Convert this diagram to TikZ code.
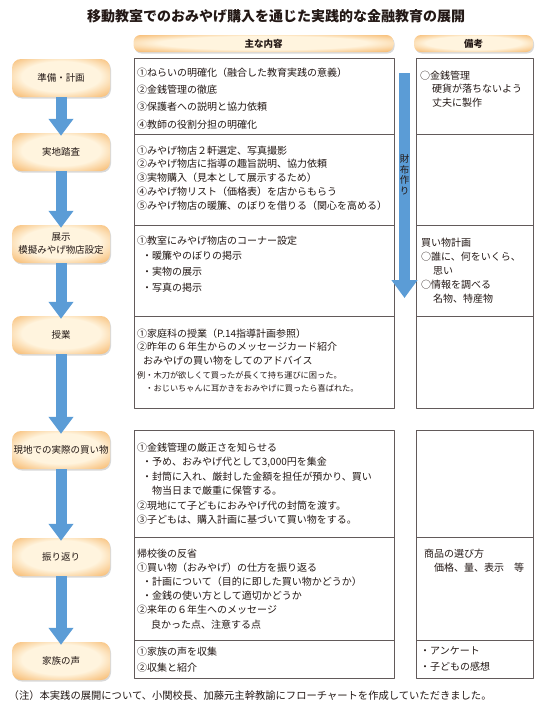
\documentclass[tikz,border=0pt]{standalone}
\usepackage{fontspec}
\setmainfont{Noto Sans CJK JP}
\usetikzlibrary{arrows.meta,shadows}
\definecolor{pillorange}{RGB}{243,160,62}
\definecolor{pillcream}{RGB}{255,244,222}
\definecolor{flowblue}{RGB}{91,156,214}
\definecolor{boxgray}{RGB}{98,90,90}
\definecolor{inkgray}{RGB}{35,24,21}
\pgfdeclareradialshading{pillglow}{\pgfpoint{0bp}{3bp}}{color(0bp)=(pillcream); color(20bp)=(pillcream); color(42bp)=(pillorange); color(70bp)=(pillorange!85!black)}
\begin{document}
\begin{tikzpicture}[x=1pt, y=-1pt, line join=round, >=stealth, text=inkgray,
	pill/.style={shade, shading=pillglow, rounded corners=9pt, minimum width=98pt, minimum height=38pt, inner sep=0pt, align=center, font=\fontsize{9.5}{13}\selectfont, drop shadow={shadow xshift=1pt, shadow yshift=-1.5pt, opacity=.3}},
	headpill/.style={shade, shading=pillglow, rounded corners=7pt, minimum height=17pt, inner sep=0pt, font=\bfseries\fontsize{9.5}{11}\selectfont, drop shadow={shadow xshift=1pt, shadow yshift=-1.5pt, opacity=.3}},
	cell/.style={draw=boxgray, line width=.8pt},
	celltext/.style={anchor=north west, inner sep=0pt, align=left, font=\fontsize{10}{#1}\selectfont},
	flow/.style={draw=flowblue, line width=11pt, -{Triangle[width=24pt, length=17pt]}}]
		\useasboundingbox (0,0) rectangle (540,707);
		% title and column heads
		\node[font=\bfseries\fontsize{14}{16}\selectfont] (title) at (276,16) {移動教室でのおみやげ購入を通じた実践的な金融教育の展開};
		\node[headpill, minimum width=260pt] (hmain) at (263.5,43.5) {主な内容};
		\node[headpill, minimum width=119pt] (hnote) at (473.5,43.5) {備考};
		% cells
		\draw[cell] (134,58) rectangle (394,408);
		\draw[cell] (134,134)--(394,134);
		\draw[cell] (134,225)--(394,225);
		\draw[cell] (134,316)--(394,316);
		\draw[cell] (416,58) rectangle (533,408);
		\draw[cell] (416,134)--(533,134);
		\draw[cell] (416,225)--(533,225);
		\draw[cell] (416,316)--(533,316);
		\draw[cell] (134,430) rectangle (394,678);
		\draw[cell] (134,537)--(394,537);
		\draw[cell] (134,640)--(394,640);
		\draw[cell] (416,430) rectangle (533,678);
		\draw[cell] (416,537)--(533,537);
		\draw[cell] (416,640)--(533,640);
		% steps
		\node[pill] (plan) at (61,78) {準備・計画};
		\node[pill] (visit) at (61,152) {実地踏査};
		\node[pill] (shop) at (61,244) {展示\\模擬みやげ物店設定};
		\node[pill] (lesson) at (61,335) {授業};
		\node[pill] (buy) at (61,450) {現地での実際の買い物};
		\node[pill] (review) at (61,557) {振り返り};
		\node[pill] (family) at (61,661) {家族の声};
		\draw[flow] (plan.south)--([yshift=-3pt]visit.north);
		\draw[flow] (visit.south)--([yshift=-3pt]shop.north);
		\draw[flow] (shop.south)--([yshift=-3pt]lesson.north);
		\draw[flow] (lesson.south)--([yshift=-3pt]buy.north);
		\draw[flow] (buy.south)--([yshift=-3pt]review.north);
		\draw[flow] (review.south)--([yshift=-3pt]family.north);
		% wallet arrow
		\coordinate (walletTop) at (404.5,73);
		\coordinate (walletTip) at (404.5,298);
		\draw[flow, -{Triangle[width=25pt, length=18pt]}] (walletTop)--(walletTip);
		\node[inner sep=0pt, align=center, font=\fontsize{9.5}{10.5}\selectfont] (wallet) at (404.5,175) {財\\布\\作\\り};
		% main contents
		\node[celltext=17.3] (m1) at (137,67.5) {①ねらいの明確化（融合した教育実践の意義）\\②金銭管理の徹底\\③保護者への説明と協力依頼\\④教師の役割分担の明確化};
		\node[celltext=13.8] (m2) at (137,145.5) {①みやげ物店２軒選定、写真撮影\\②みやげ物店に指導の趣旨説明、協力依頼\\③実物購入（見本として展示するため）\\④みやげ物リスト（価格表）を店からもらう\\⑤みやげ物店の暖簾、のぼりを借りる（関心を高める）};
		\node[celltext=15.7] (m3) at (137,235.5) {①教室にみやげ物店のコーナー設定\\\hspace*{.5em}・暖簾やのぼりの掲示\\\hspace*{.5em}・実物の展示\\\hspace*{.5em}・写真の掲示};
		\node[celltext=13.5] (m4) at (137,328.5) {①家庭科の授業（P.14指導計画参照）\\②昨年の６年生からのメッセージカード紹介\\\hspace*{.6em}おみやげの買い物をしてのアドバイス};
		\node[celltext=12.5, font=\fontsize{8.2}{12.5}\selectfont] (m4ex) at (137,371.4) {例・木刀が欲しくて買ったが長くて持ち運びに困った。\\\hspace*{1em}・おじいちゃんに耳かきをおみやげに買ったら喜ばれた。};
		\node[celltext=14.5] (m5) at (137,442.5) {①金銭管理の厳正さを知らせる\\\hspace*{.5em}・予め、おみやげ代として3,000円を集金\\\hspace*{.5em}・封筒に入れ、厳封した金額を担任が預かり、買い\\\hspace*{1.5em}物当日まで厳重に保管する。\\②現地にて子どもにおみやげ代の封筒を渡す。\\③子どもは、購入計画に基づいて買い物をする。};
		\node[celltext=14.2] (m6) at (137,548.5) {帰校後の反省\\①買い物（おみやげ）の仕方を振り返る\\\hspace*{.5em}・計画について（目的に即した買い物かどうか）\\\hspace*{.5em}・金銭の使い方として適切かどうか\\②来年の６年生へのメッセージ\\\hspace*{1.4em}良かった点、注意する点};
		\node[celltext=16] (m7) at (137,646.5) {①家族の声を収集\\②収集と紹介};
		% notes
		\node[celltext=13.5] (n1) at (420,70.5) {○金銭管理\\\hspace*{1.2em}硬貨が落ちないよう\\\hspace*{1.2em}丈夫に製作};
		\node[celltext=14] (n3) at (421,237.5) {買い物計画\\○誰に、何をいくら、\\\hspace*{1.2em}思い\\○情報を調べる\\\hspace*{1.2em}名物、特産物};
		\node[celltext=14] (n6) at (424,548.5) {商品の選び方\\\hspace*{1em}価格、量、表示　等};
		\node[celltext=16] (n7) at (420,646.5) {・アンケート\\・子どもの感想};
		% footnote
		\node[anchor=west, inner sep=0pt, font=\fontsize{10.3}{12}\selectfont] (note) at (8.5,696) {（注）本実践の展開について、小関校長、加藤元主幹教諭にフローチャートを作成していただきました。};
		\end{tikzpicture}
\end{document}
